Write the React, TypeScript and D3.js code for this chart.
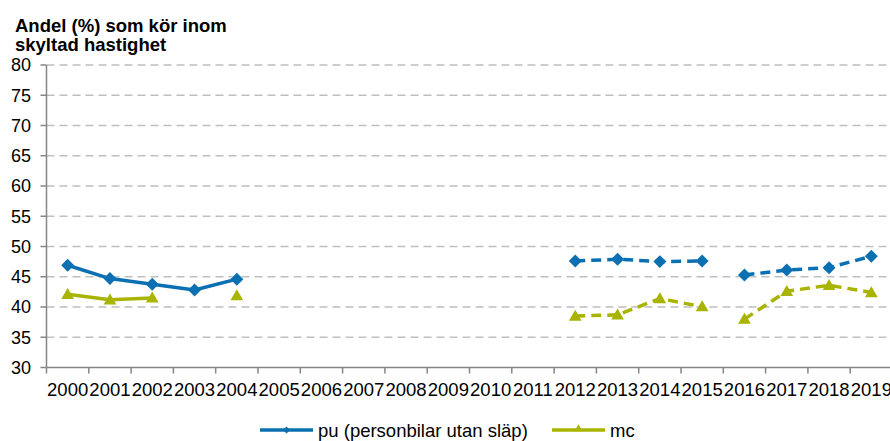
import React from "react";
import * as d3 from "d3";

const years = ["2000","2001","2002","2003","2004","2005","2006","2007","2008","2009","2010","2011","2012","2013","2014","2015","2016","2017","2018","2019"];
const puValues: (number | null)[] = [46.9, 44.7, 43.75, 42.8, 44.6, null, null, null, null, null, null, null, 47.6, 47.9, 47.5, 47.6, 45.3, 46.1, 46.5, 48.4];
const mcValues: (number | null)[] = [42.1, 41.2, 41.5, null, 41.9, null, null, null, null, null, null, null, 38.5, 38.7, 41.4, 40.05, 38.0, 42.6, 43.6, 42.4];
// segment id per year: lines connect only within the same segment
const segments = ["old","old","old","old","old","","","","","","","","newA","newA","newA","newA","newB","newB","newB","newB"];
const segmentDashed: Record<string, boolean> = { old: false, newA: true, newB: true };
const yTicks = [30, 35, 40, 45, 50, 55, 60, 65, 70, 75, 80];
const titleLines = ["Andel (%) som kör inom", "skyltad hastighet"];
const seriesNames = ["pu (personbilar utan släp)", "mc"];

const BLUE = "#0A70B2";
const GREEN = "#A8B400";
const FONT = "'Liberation Sans', Arial, sans-serif";

export default function App() {
  const W = 890, H = 441;
  const left = 46.5, top = 65, bottom = 367.5, band = 42.3;
  const x = d3.scaleBand<string>().domain(years).range([left, left + band * years.length]).padding(0);
  const y = d3.scaleLinear().domain([30, 80]).range([bottom, top]);
  const cx = (i: number) => (x(years[i]) as number) + x.bandwidth() / 2;

  const diamond = d3.symbol().type(d3.symbolSquare).size(84)();
  const triangle = d3.symbol().type(d3.symbolTriangle).size(70)();
  const diamondSmall = d3.symbol().type(d3.symbolSquare).size(26)();
  const triangleSmall = d3.symbol().type(d3.symbolTriangle).size(28)();

  const segIds = Array.from(new Set(segments.filter((s) => s)));

  const renderSeries = (vals: (number | null)[], color: string, marker: string, key: string, rotate: boolean) => (
    <g key={key}>
      {segIds.map((seg) => {
        const line = d3
          .line<number>()
          .defined((i) => vals[i] != null && segments[i] === seg)
          .x((i) => cx(i))
          .y((i) => y(vals[i] as number));
        const d = line(years.map((_, i) => i));
        return (
          <path
            key={seg}
            d={d || ""}
            fill="none"
            stroke={color}
            strokeWidth={3.5}
            strokeDasharray={segmentDashed[seg] ? "10,6" : undefined}
            strokeLinejoin="round"
          />
        );
      })}
      {vals.map((v, i) =>
        v == null ? null : (
          <path
            key={i}
            d={marker}
            fill={color}
            transform={`translate(${cx(i)},${y(v)})${rotate ? " rotate(45)" : " translate(0,1)"}`}
          />
        )
      )}
    </g>
  );

  return (
    <svg width={W} height={H} style={{ position: "absolute", left: 0, top: 0, background: "#fff" }} fontFamily={FONT}>
      {/* title */}
      <text x={15} y={31.5} fontSize={18.5} fontWeight="bold" fill="#000">
        {titleLines.map((t, i) => (
          <tspan key={i} x={15} y={31.5 + i * 19}>{t}</tspan>
        ))}
      </text>
      {/* gridlines */}
      {yTicks.filter((t) => t !== 30).map((t) => (
        <line key={t} x1={left} x2={W + 10} y1={y(t)} y2={y(t)} stroke="#BFBFBF" strokeWidth={1.5} strokeDasharray="8,5" />
      ))}
      {/* y axis */}
      <line x1={left} x2={left} y1={top} y2={bottom} stroke="#868686" strokeWidth={1.5} />
      {yTicks.map((t) => (
        <g key={t}>
          <line x1={left - 6} x2={left} y1={y(t)} y2={y(t)} stroke="#868686" strokeWidth={1.5} />
          <text x={31} y={y(t)} dy="0.36em" textAnchor="end" fontSize={18} fill="#000">{t}</text>
        </g>
      ))}
      {/* x axis */}
      <line x1={left} x2={left + band * years.length} y1={bottom} y2={bottom} stroke="#868686" strokeWidth={1.5} />
      {years.map((yr) => (
        <line key={yr} x1={(x(yr) as number)} x2={(x(yr) as number)} y1={bottom} y2={bottom + 6} stroke="#868686" strokeWidth={1.5} />
      ))}
      {years.map((yr, i) => (
        <text key={yr} x={cx(i)} y={396} textAnchor="middle" fontSize={18.5} fill="#000">{yr}</text>
      ))}
      {/* series */}
      {renderSeries(puValues, BLUE, diamond, "pu", true)}
      {renderSeries(mcValues, GREEN, triangle, "mc", false)}
      {/* legend */}
      <g>
        <line x1={260} x2={313} y1={430} y2={430} stroke={BLUE} strokeWidth={3.5} />
        <path d={diamondSmall} fill={BLUE} transform="translate(286.5,430) rotate(45)" />
        <text x={318} y={436.5} fontSize={18.5} fill="#000">{seriesNames[0]}</text>
        <line x1={552} x2={605} y1={430} y2={430} stroke={GREEN} strokeWidth={3.5} />
        <path d={triangleSmall} fill={GREEN} transform="translate(578.5,429)" />
        <text x={610} y={436.5} fontSize={18.5} fill="#000">{seriesNames[1]}</text>
      </g>
    </svg>
  );
}
